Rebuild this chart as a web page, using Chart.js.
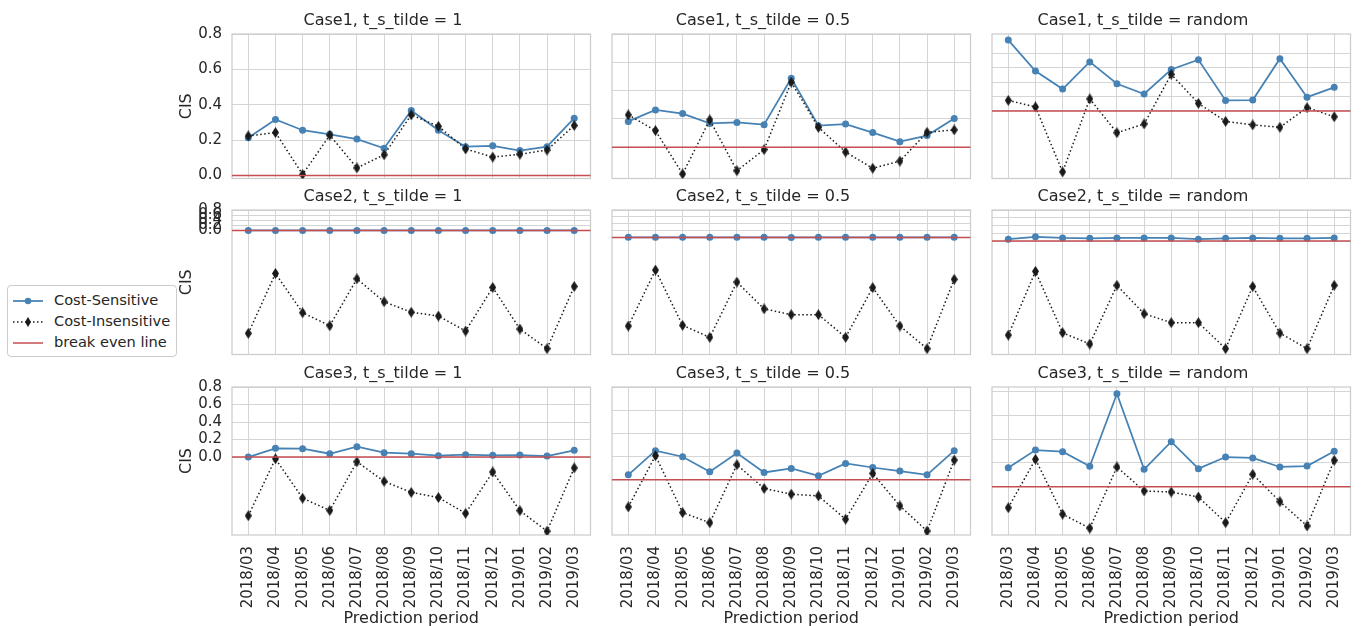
<!DOCTYPE html>
<html>
<head>
<meta charset="utf-8">
<script src="https://cdn.jsdelivr.net/npm/chart.js@4"></script>
<style>
  body { margin: 0; background: #fff; width: 1364px; height: 626px; position: relative; overflow: hidden;
         font-family: "DejaVu Sans", sans-serif; color: #262626; }
  canvas { position: absolute; }
  #legend { position: absolute; left: 7px; top: 285px; width: 168px; height: 70px;
            border: 1px solid #cccccc; border-radius: 4px; background: #fff; font-size: 14.6px; }
  #legend .row { position: absolute; left: 4px; height: 21px; line-height: 21px; white-space: nowrap; }
  #legend svg { vertical-align: middle; margin-right: 10px; }
</style>
</head>
<body>
<div id="legend">
  <div class="row" style="top:3px"><svg width="32" height="20"><line x1="1" y1="10" x2="31" y2="10" stroke="#4682b4" stroke-width="1.75"/><circle cx="16" cy="10" r="3.2" fill="#4682b4"/></svg>Cost-Sensitive</div>
  <div class="row" style="top:24px"><svg width="32" height="20"><line x1="1" y1="10" x2="31" y2="10" stroke="#1a1a1a" stroke-width="1.5" stroke-dasharray="1.5,2.5"/><polygon points="16,5 19,10 16,15 13,10" fill="#1a1a1a"/></svg>Cost-Insensitive</div>
  <div class="row" style="top:45px"><svg width="32" height="20"><line x1="1" y1="10" x2="31" y2="10" stroke="#c44e52" stroke-width="1.5"/></svg>break even line</div>
</div>
<script>
// prediction periods (x axis)
const periods = ['2018/03', '2018/04', '2018/05', '2018/06', '2018/07', '2018/08', '2018/09',
                 '2018/10', '2018/11', '2018/12', '2019/01', '2019/02', '2019/03'];

const titles = [
  'Case1, t_s_tilde = 1', 'Case1, t_s_tilde = 0.5', 'Case1, t_s_tilde = random',
  'Case2, t_s_tilde = 1', 'Case2, t_s_tilde = 0.5', 'Case2, t_s_tilde = random',
  'Case3, t_s_tilde = 1', 'Case3, t_s_tilde = 0.5', 'Case3, t_s_tilde = random'
];

// Cost-Sensitive CIS
const cs1_1  = [0.213, 0.317, 0.256, 0.233, 0.206, 0.154, 0.367, 0.256, 0.163, 0.168, 0.141, 0.163, 0.324];
const cs1_05 = [0.183, 0.264, 0.238, 0.169, 0.176, 0.160, 0.488, 0.153, 0.164, 0.104, 0.040, 0.083, 0.203];
const cs1_r  = [0.990, 0.557, 0.306, 0.685, 0.379, 0.237, 0.579, 0.716, 0.147, 0.151, 0.730, 0.192, 0.329];
const cs2_1  = [0, 0, 0, 0, 0, 0, 0, 0, 0, 0, 0, 0, 0];
const cs2_05 = [0.005, 0.006, 0.005, 0.005, 0.005, 0.005, 0.0, 0.005, 0.005, 0.005, 0.005, 0.005, 0.005];
const cs2_r  = [0.05, 0.11, 0.08, 0.07, 0.08, 0.08, 0.08, 0.05, 0.07, 0.08, 0.07, 0.07, 0.08];
const cs3_1  = [0.0, 0.100, 0.096, 0.038, 0.119, 0.050, 0.038, 0.015, 0.027, 0.020, 0.023, 0.012, 0.077];
const cs3_05 = [0.043, 0.251, 0.199, 0.069, 0.231, 0.063, 0.098, 0.035, 0.141, 0.106, 0.075, 0.043, 0.251];
const cs3_r  = [0.160, 0.309, 0.295, 0.172, 0.783, 0.146, 0.379, 0.152, 0.250, 0.242, 0.166, 0.174, 0.298];

// Cost-Insensitive CIS
const ci1_1  = [0.224, 0.243, 0.006, 0.228, 0.043, 0.117, 0.343, 0.278, 0.150, 0.104, 0.120, 0.144, 0.283];
const ci1_05 = [0.229, 0.118, -0.188, 0.194, -0.165, -0.016, 0.460, 0.141, -0.033, -0.148, -0.097, 0.106, 0.123];
const ci1_r  = [0.147, 0.055, -0.853, 0.168, -0.305, -0.182, 0.511, 0.105, -0.147, -0.196, -0.229, 0.045, -0.082];
const ci2_1  = [-4.04, -1.69, -3.23, -3.74, -1.90, -2.80, -3.21, -3.36, -3.95, -2.24, -3.87, -4.64, -2.20];
const ci2_05 = [-2.58, -0.95, -2.56, -2.91, -1.30, -2.08, -2.25, -2.25, -2.91, -1.46, -2.58, -3.24, -1.22];
const ci2_r  = [-2.42, -0.78, -2.36, -2.65, -1.14, -1.87, -2.10, -2.10, -2.77, -1.17, -2.37, -2.77, -1.14];
const ci3_1  = [-0.670, -0.020, -0.470, -0.610, -0.054, -0.277, -0.404, -0.462, -0.643, -0.170, -0.612, -0.846, -0.124];
const ci3_05 = [-0.234, 0.208, -0.283, -0.370, 0.130, -0.075, -0.124, -0.139, -0.340, 0.055, -0.225, -0.442, 0.170];
const ci3_r  = [-0.177, 0.231, -0.232, -0.350, 0.166, -0.036, -0.045, -0.087, -0.303, 0.104, -0.126, -0.331, 0.222];

const costSensitive = [cs1_1, cs1_05, cs1_r, cs2_1, cs2_05, cs2_r, cs3_1, cs3_05, cs3_r];
const costInsensitive = [ci1_1, ci1_05, ci1_r, ci2_1, ci2_05, ci2_r, ci3_1, ci3_05, ci3_r];

const breakEven = 0;
const yTicks = [0, 0.2, 0.4, 0.6, 0.8];
// y limits of each panel
const yLimits = [[-0.017, 0.8], [-0.22, 0.8], [-0.945, 1.075],
                 [-4.87, 0.8], [-3.41, 0.8], [-2.92, 0.8],
                 [-0.89, 0.8], [-0.476, 0.8], [-0.407, 0.84]];

const font = '"DejaVu Sans", sans-serif';
const textColor = '#262626';
const gridColor = '#d5d5d5';

// thin diamond marker like matplotlib 'd'
function thinDiamond() {
  const c = document.createElement('canvas');
  c.width = 7; c.height = 11;
  const g = c.getContext('2d');
  g.fillStyle = '#1a1a1a';
  g.beginPath();
  g.moveTo(3.5, 0); g.lineTo(7, 5.5); g.lineTo(3.5, 11); g.lineTo(0, 5.5);
  g.closePath(); g.fill();
  return c;
}
const diamond = thinDiamond();

const framePlugin = {
  id: 'frame',
  beforeDatasetsDraw(chart) {
    const a = chart.chartArea, ctx = chart.ctx;
    ctx.save();
    ctx.strokeStyle = '#cccccc';
    ctx.lineWidth = 1.25;
    ctx.strokeRect(a.left, a.top, a.right - a.left, a.bottom - a.top);
    ctx.restore();
  },
  afterDatasetsDraw(chart) {
    const a = chart.chartArea, ctx = chart.ctx;
    const y = chart.scales.y.getPixelForValue(breakEven);
    ctx.save();
    ctx.strokeStyle = '#c44e52';
    ctx.lineWidth = 1.5;
    ctx.beginPath();
    ctx.moveTo(a.left, y); ctx.lineTo(a.right, y);
    ctx.stroke();
    ctx.restore();
  }
};

function noPad(s) {
  s.paddingTop = 0; s.paddingBottom = 0; s.paddingLeft = 0; s.paddingRight = 0;
}

const plotLefts = [232, 612, 992];
const plotTops = [34, 210, 387];
const plotW = 362, plotH = 148, axisW = 60, titleH = 24;

function makePanel(k) {
  const row = Math.floor(k / 3), col = k % 3;
  const last = row === 2;
  const xAxisH = last ? 93 : 0;
  const padBottom = last ? 0 : 2;
  const canvas = document.createElement('canvas');
  const w = axisW + plotW + 2;
  const h = titleH + plotH + xAxisH + padBottom;
  canvas.width = w; canvas.height = h;
  canvas.style.width = w + 'px'; canvas.style.height = h + 'px';
  canvas.style.left = (plotLefts[col] - axisW) + 'px';
  canvas.style.top = (plotTops[row] - titleH) + 'px';
  document.body.appendChild(canvas);

  new Chart(canvas.getContext('2d'), {
    type: 'line',
    data: {
      datasets: [{
        label: 'Cost-Sensitive',
        data: costSensitive[k].map((v, i) => ({x: i, y: v})),
        borderColor: '#4682b4',
        backgroundColor: '#4682b4',
        borderWidth: 1.75,
        pointRadius: 3.5,
        pointBorderWidth: 0,
        tension: 0,
        order: 2
      }, {
        label: 'Cost-Insensitive',
        data: costInsensitive[k].map((v, i) => ({x: i, y: v})),
        borderColor: '#1a1a1a',
        backgroundColor: '#1a1a1a',
        borderWidth: 1.5,
        borderDash: [1.5, 2.5],
        pointStyle: diamond,
        tension: 0,
        order: 1
      }]
    },
    options: {
      responsive: false,
      animation: false,
      devicePixelRatio: 1,
      layout: { padding: { top: 1.5, right: 2, bottom: padBottom, left: 0 } },
      plugins: {
        legend: { display: false },
        tooltip: { enabled: false },
        title: {
          display: true,
          text: titles[k],
          color: textColor,
          font: { family: font, size: 16, weight: 'normal', lineHeight: '19px' },
          padding: { top: 0, bottom: 3.5 }
        }
      },
      scales: {
        x: {
          type: 'linear',
          min: -0.6,
          max: periods.length - 1 + 0.6,
          afterBuildTicks: s => { s.ticks = periods.map((_, i) => ({value: i})); },
          afterFit: s => { s.height = xAxisH; noPad(s); },
          grid: { color: gridColor, lineWidth: 1, drawTicks: false },
          border: { display: false },
          ticks: {
            display: last,
            autoSkip: false,
            maxRotation: 90,
            minRotation: 90,
            padding: 11,
            color: textColor,
            font: { family: font, size: 15 },
            callback: v => periods[v]
          },
          title: {
            display: last,
            text: 'Prediction period',
            color: textColor,
            font: { family: font, size: 16 },
            padding: { top: 0, bottom: 0 }
          }
        },
        y: {
          min: yLimits[k][0],
          max: yLimits[k][1],
          afterBuildTicks: s => { s.ticks = yTicks.map(v => ({value: v})); },
          afterFit: s => { s.width = axisW; noPad(s); },
          grid: { color: gridColor, lineWidth: 1, drawTicks: false },
          border: { display: false },
          ticks: {
            display: col === 0,
            autoSkip: false,
            padding: 10,
            color: textColor,
            font: { family: font, size: 15 },
            callback: v => v.toFixed(1)
          },
          title: {
            display: col === 0,
            text: 'CIS',
            color: textColor,
            font: { family: font, size: 16 },
            padding: { top: 5, bottom: 0 }
          }
        }
      }
    },
    plugins: [framePlugin]
  });
}

for (let k = 0; k < 9; k++) makePanel(k);
</script>
</body>
</html>
